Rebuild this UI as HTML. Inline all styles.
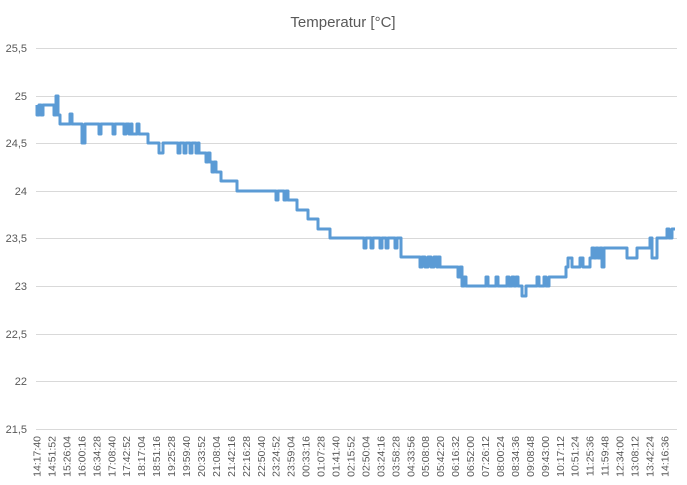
<!DOCTYPE html>
<html><head><meta charset="utf-8"><style>
html,body{margin:0;padding:0;background:#fff;}
svg{display:block;font-family:"Liberation Sans",sans-serif;}
</style></head><body>
<svg width="687" height="485" viewBox="0 0 687 485" xmlns="http://www.w3.org/2000/svg">
<rect width="687" height="485" fill="#fff"/>
<text x="343" y="27" text-anchor="middle" font-size="15" fill="#595959">Temperatur [°C]</text>
<g stroke="#d9d9d9" stroke-width="1">
<line x1="36" x2="677" y1="48.5" y2="48.5"/>
<line x1="36" x2="677" y1="96.5" y2="96.5"/>
<line x1="36" x2="677" y1="143.5" y2="143.5"/>
<line x1="36" x2="677" y1="191.5" y2="191.5"/>
<line x1="36" x2="677" y1="238.5" y2="238.5"/>
<line x1="36" x2="677" y1="286.5" y2="286.5"/>
<line x1="36" x2="677" y1="334.5" y2="334.5"/>
<line x1="36" x2="677" y1="381.5" y2="381.5"/>
<line x1="36" x2="677" y1="429.5" y2="429.5"/>
</g>
<g font-size="11" fill="#595959" text-anchor="end">
<text x="27" y="52">25,5</text><text x="27" y="100">25</text><text x="27" y="147">24,5</text>
<text x="27" y="195">24</text><text x="27" y="242">23,5</text><text x="27" y="290">23</text>
<text x="27" y="338">22,5</text><text x="27" y="385">22</text><text x="27" y="433">21,5</text>
</g>
<g font-size="10.5" fill="#595959" text-anchor="end" id="xl"></g>
<path fill="none" stroke="#5b9bd5" stroke-width="3" stroke-linejoin="round" d="
M37 105 V115 H39 V105 H41 V115 H43 V105 H54 V115 H56 V96 H58 V115 H60 V124 H70 V114 H72 V124 H82 V143 H85 V124 H99 V134 H101 V124 H113 V134 H115 V124 H124 V134 H126 V124 H129 V134 H131 V124 H132 V134 H137 V124 H139 V134 H148 V143 H159 V153 H163 V143 H178 V153 H180 V143 H184 V153 H186 V143 H190 V153 H192 V143 H196 V153 H198 V143 H199 V153 H206 V162 H208 V153 H210 V162 H212 V172 H214 V162 H216 V172 H221 V181 H237 V191 H276 V200 H278 V191 H284 V200 H286 V191 H288 V200 H297 V210 H308 V219 H318 V229 H330 V238 H364 V248 H366 V238 H371 V248 H373 V238 H380 V248 H382 V238 H386 V248 H388 V238 H395 V248 H397 V238 H401 V257 H420 V267 H422 V257 H425 V267 H428 V257 H431 V267 H434 V257 H437 V267 H438 V257 H440 V267 H458 V277 H460 V267 H462 V286 H464 V277 H466 V286 H486 V277 H488 V286 H496 V277 H498 V286 H507 V277 H509 V286 H512 V277 H514 V286 H516 V277 H518 V286 H522 V296 H526 V286 H537 V277 H539 V286 H544 V277 H546 V286 H549 V277 H566 V267 H568 V258 H572 V267 H580 V258 H583 V267 H590 V258 H592 V248 H594 V258 H596 V248 H598 V258 H600 V248 H602 V267 H604 V248 H627 V258 H637 V248 H650 V238 H652 V258 H657 V238 H667 V229 H669 V238 H672 V229 H675"/>
</svg>
<script>
var g=document.getElementById('xl');
var L="14:17:40,14:51:52,15:26:04,16:00:16,16:34:28,17:08:40,17:42:52,18:17:04,18:51:16,19:25:28,19:59:40,20:33:52,21:08:04,21:42:16,22:16:28,22:50:40,23:24:52,23:59:04,00:33:16,01:07:28,01:41:40,02:15:52,02:50:04,03:24:16,03:58:28,04:33:56,05:08:08,05:42:20,06:16:32,06:52:00,07:26:12,08:00:24,08:34:36,09:08:48,09:43:00,10:17:12,10:51:24,11:25:36,11:59:48,12:34:00,13:08:12,13:42:24,14:16:36".split(',');
for(var i=0;i<L.length;i++){
 var x=40.5+i*14.95;
 var e=document.createElementNS('http://www.w3.org/2000/svg','text');
 e.setAttribute('transform','translate('+x.toFixed(1)+',436) rotate(-90)');
 e.textContent=L[i];g.appendChild(e);
}
</script>
</body></html>
